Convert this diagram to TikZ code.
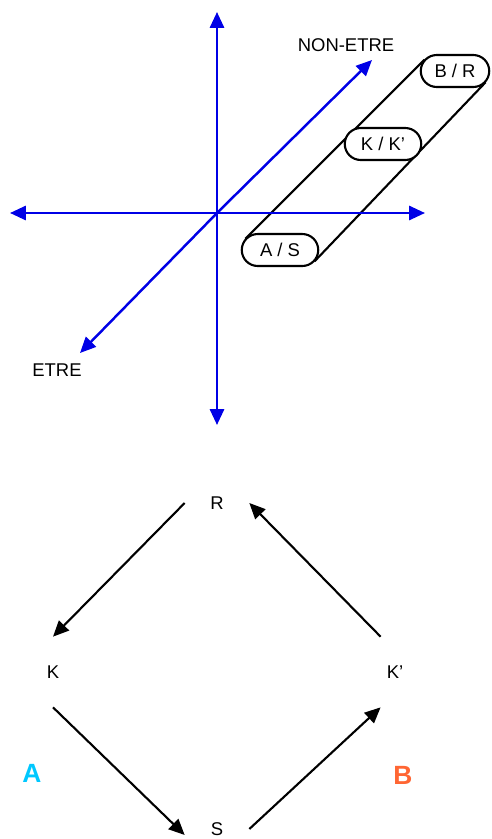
\documentclass[tikz,border=0pt]{standalone}
\usepackage{fontspec}
\setmainfont{Liberation Sans}
\usetikzlibrary{arrows.meta, shapes.misc, backgrounds}
\definecolor{axisblue}{RGB}{0,0,230}
\definecolor{acyan}{RGB}{0,200,255}
\definecolor{borange}{RGB}{255,102,51}

\begin{document}
\begin{tikzpicture}[x=0.02cm, y=-0.02cm, >={Triangle[length=9pt,width=8pt]},
  font=\fontsize{10.5}{12}\selectfont,
  axis/.style={->, axisblue, line width=1.4pt},
  capsule/.style={draw, line width=1.2pt, fill=white, rounded rectangle, minimum width=1.6cm, minimum height=0.64cm, inner sep=1pt},
  rail/.style={line width=1.2pt},
  cycle/.style={->, line width=1.2pt},
  big/.style={font=\fontsize{15}{18}\selectfont\bfseries}]

\useasboundingbox (0,0) rectangle (491,839);
\clip (0,0) rectangle (491,839);

% Cylinder of the three pairs
\node[capsule] (as) at (280,250) {A / S};
\node[capsule] (kk) at (383,144) {K / K’};
\node[capsule, minimum width=1.44cm] (br) at (455,71) {B / R};
\begin{scope}[on background layer]
  \draw[rail] ([shift={(4.7,-11.3)}]as.west) -- ([shift={(4.7,-11.3)}]br.west);
  \draw[rail] ([shift={(-4.7,11.3)}]as.east) -- ([shift={(-4.7,11.3)}]br.east);
\end{scope}

% Axes
\coordinate (O) at (217,213);
\coordinate (top) at (217,12);
\coordinate (bot) at (217,425);
\coordinate (lft) at (10,213);
\coordinate (rgt) at (425,213);
\coordinate (ne) at (372,60);
\coordinate (sw) at (80,353);
\draw[axis] (O) -- (top);
\draw[axis] (O) -- (bot);
\draw[axis] (O) -- (lft);
\draw[axis] (O) -- (rgt);
\draw[axis] (O) -- (ne);
\draw[axis] (O) -- (sw);
\node (nonetre) at (346,45) {NON-ETRE};
\node (etre) at (57,370) {ETRE};

% Cycle R -> K -> S -> K' -> R
\node[minimum width=1.28cm] (r) at (217,503) {R};
\node[minimum height=1.4cm] (k) at (53,672) {K};
\node[minimum height=1.4cm, minimum width=0.56cm] (kp) at (395,672) {K’};
\node[minimum width=1.28cm] (s) at (217,829) {S};
\node[big, text=acyan] (a) at (32,773) {A};
\node[big, text=borange] (b) at (403,775) {B};

\draw[cycle] (r.west) -- (k.north);
\draw[cycle] (k.south) -- ([yshift=-3.4pt]s.west);
\draw[cycle] (s.east) -- (kp.south west);
\draw[cycle] (kp.north west) -- (r.east);

\end{tikzpicture}
\end{document}
